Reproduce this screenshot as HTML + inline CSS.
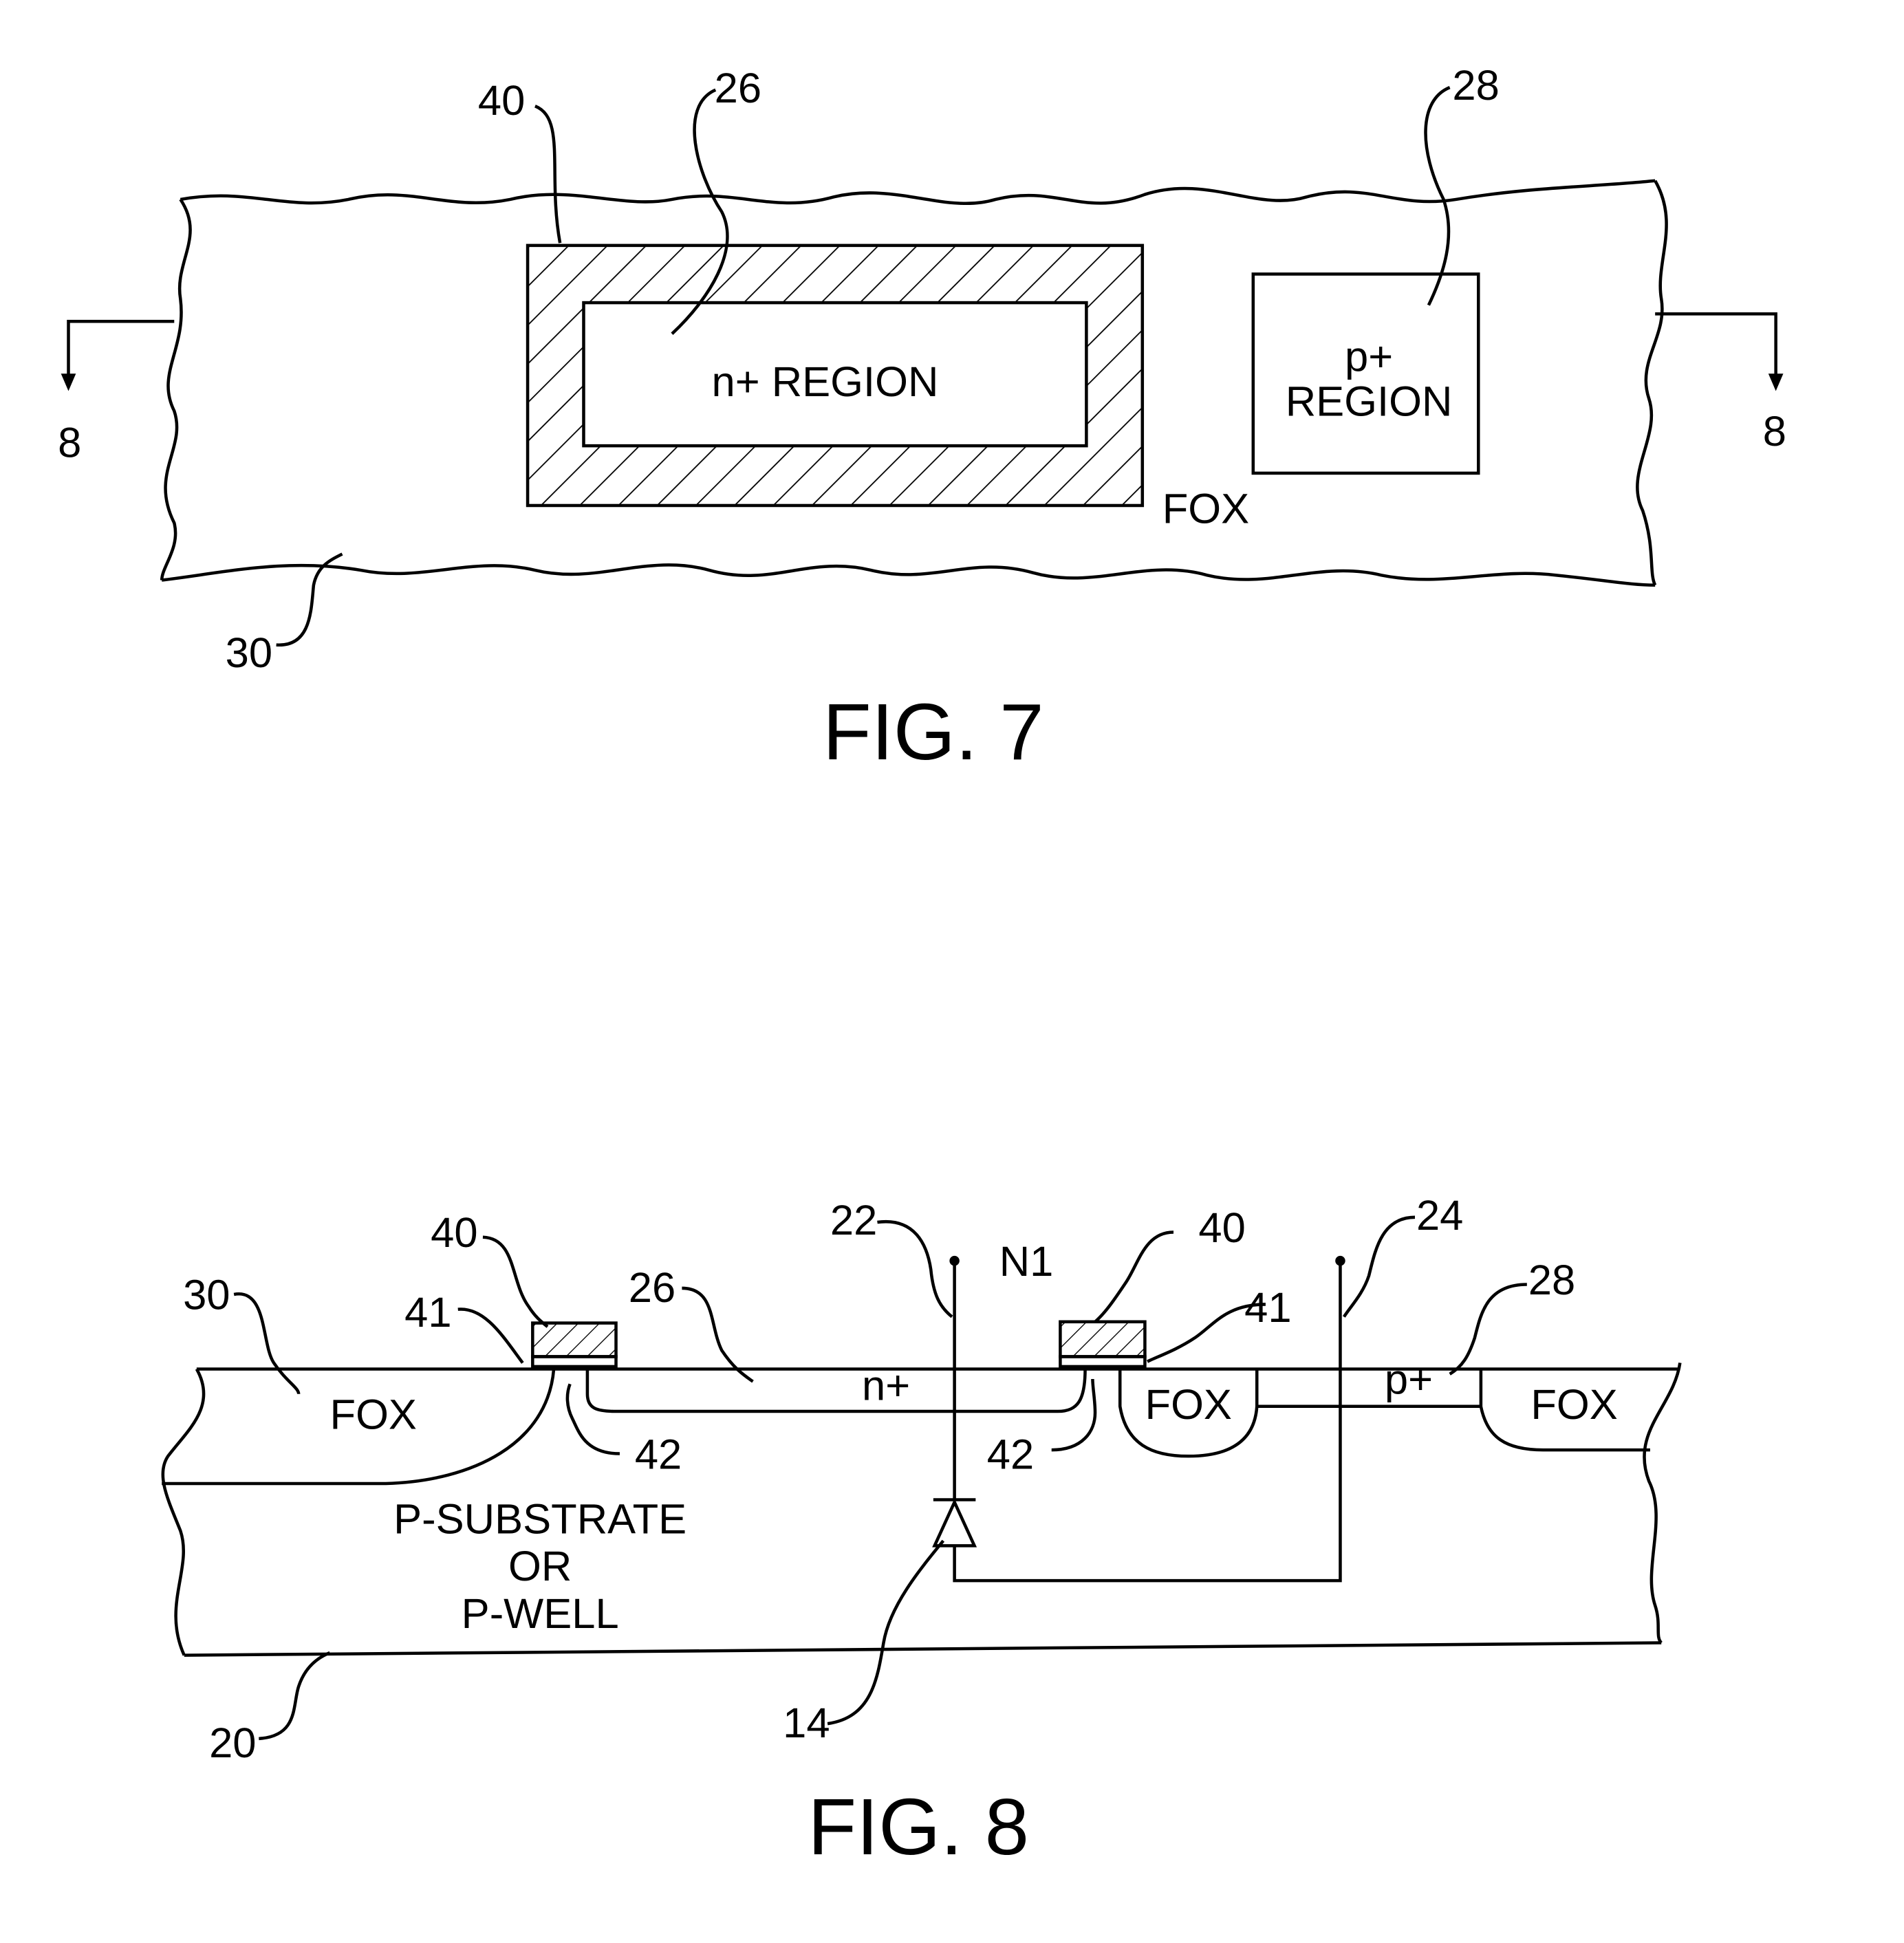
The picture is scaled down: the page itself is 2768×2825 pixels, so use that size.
<!DOCTYPE html>
<html><head><style>
html,body{margin:0;padding:0;background:#fff;}
svg{display:block;}
text{font-family:"Liberation Sans",sans-serif;fill:#000;}
</style></head><body>
<svg width="2768" height="2825" viewBox="0 0 1530 1561" xmlns="http://www.w3.org/2000/svg">
<defs>
<pattern id="h" width="22" height="22" patternUnits="userSpaceOnUse" patternTransform="rotate(45)">
<line x1="0" y1="0" x2="0" y2="22" stroke="#000" stroke-width="2"/>
</pattern>
<pattern id="h2" width="12" height="12" patternUnits="userSpaceOnUse" patternTransform="rotate(45)">
<line x1="0" y1="0" x2="0" y2="12" stroke="#000" stroke-width="1.5"/>
</pattern>
</defs>
<g fill="none" stroke="#000" stroke-width="2.5">
<path d="M145,160 C200,150 230,170 280,160 C330,148 360,170 410,160 C460,148 500,168 540,160 C590,150 620,172 670,158 C720,146 760,172 800,160 C850,148 870,175 920,156 C970,140 1010,170 1050,158 C1100,145 1120,168 1170,160 C1230,150 1280,150 1330,145"/>
<path d="M130,466 C180,460 230,448 290,458 C340,468 380,446 430,458 C480,470 520,444 570,458 C620,472 650,446 700,458 C750,470 780,446 830,460 C880,474 920,448 970,462 C1020,474 1060,450 1110,462 C1160,472 1200,456 1250,462 C1290,466 1310,470 1330,470"/>
<path d="M145,160 C165,190 140,210 145,240 C150,280 125,300 140,330 C150,360 120,380 140,420 C145,440 130,455 130,466"/>
<path d="M1330,145 C1350,180 1330,210 1335,240 C1340,270 1315,290 1325,320 C1335,350 1305,380 1320,410 C1330,440 1325,460 1330,470"/>
<rect x="424" y="197" width="494" height="209" fill="url(#h)"/>
<rect x="469" y="243" width="404" height="115" fill="#fff"/>
<rect x="1007" y="220" width="181" height="160"/>
<path d="M140,258 H55 V305"/>
<path d="M1330,252 H1427 V305"/>
<path d="M430,85 C455,95 440,140 450,195"/>
<path d="M575,72 C545,85 560,140 580,170 C595,200 570,240 540,268"/>
<path d="M1165,70 C1140,80 1140,120 1160,160 C1170,190 1160,220 1148,245"/>
<path d="M222,518 C250,520 250,490 252,470 C255,455 265,450 275,445"/>
<path d="M158,1100 H1350"/>
<path d="M158,1100 C175,1130 150,1150 135,1170 C125,1185 135,1205 145,1230 C155,1260 130,1290 148,1330"/>
<path d="M1350,1095 C1345,1130 1310,1150 1325,1190 C1340,1220 1320,1260 1330,1290 C1335,1305 1330,1315 1335,1320"/>
<path d="M148,1330 L1335,1320"/>
<path d="M445,1100 C440,1160 380,1190 310,1192 H130"/>
<path d="M472,1100 V1120 C472,1132 480,1134 495,1134 H850 C866,1134 872,1125 872,1100"/>
<path d="M900,1100 V1130 C905,1160 925,1170 955,1170 C985,1170 1008,1160 1010,1130 V1100"/>
<path d="M1010,1130 H1190"/>
<path d="M1190,1100 V1130 C1195,1155 1210,1165 1240,1165 H1326"/>
<rect x="428" y="1063" width="67" height="27" fill="url(#h2)"/>
<rect x="428" y="1090" width="67" height="8"/>
<rect x="852" y="1062" width="68" height="28" fill="url(#h2)"/>
<rect x="852" y="1090" width="68" height="8"/>
<path d="M767,1014 V1205"/>
<path d="M750,1205 H784"/>
<path d="M767,1207 L751,1242 H783 Z"/>
<path d="M767,1242 V1270 H1077 V1014"/>
<path d="M388,994 C415,995 410,1030 425,1050 C430,1058 435,1062 440,1066"/>
<path d="M368,1052 C390,1050 405,1075 420,1095"/>
<path d="M188,1040 C215,1035 210,1080 220,1095 C230,1110 240,1115 240,1120"/>
<path d="M548,1035 C575,1035 570,1065 580,1085 C590,1100 598,1105 605,1110"/>
<path d="M498,1168 C470,1168 465,1150 460,1140 C455,1130 455,1120 458,1112"/>
<path d="M845,1165 C870,1165 880,1150 880,1135 C880,1125 878,1115 878,1108"/>
<path d="M705,982 C735,978 745,1000 748,1020 C750,1040 755,1050 765,1058"/>
<path d="M1137,978 C1110,978 1105,1005 1100,1025 C1095,1040 1085,1050 1080,1058"/>
<path d="M1227,1032 C1195,1032 1190,1055 1185,1075 C1180,1090 1175,1098 1165,1104"/>
<path d="M943,990 C920,990 915,1015 905,1030 C895,1045 888,1055 880,1062"/>
<path d="M1017,1048 C985,1048 975,1065 960,1075 C945,1085 930,1090 922,1094"/>
<path d="M665,1385 C700,1380 705,1350 710,1320 C715,1290 740,1260 758,1238"/>
<path d="M208,1397 C240,1395 235,1370 240,1355 C245,1340 255,1332 265,1328"/>
</g>
<polygon points="49,300 61,300 55,314" fill="#000"/>
<polygon points="1421,300 1433,300 1427,314" fill="#000"/>
<circle cx="767" cy="1013" r="4" fill="#000"/>
<circle cx="1077" cy="1013" r="4" fill="#000"/>
<g font-size="34">
<text x="663" y="318" text-anchor="middle">n+ REGION</text>
<text x="1100" y="298" text-anchor="middle">p+</text>
<text x="1100" y="334" text-anchor="middle">REGION</text>
<text x="934" y="420">FOX</text>
<text x="56" y="367" text-anchor="middle">8</text>
<text x="1426" y="358" text-anchor="middle">8</text>
<text x="403" y="92" text-anchor="middle">40</text>
<text x="593" y="82" text-anchor="middle">26</text>
<text x="1186" y="80" text-anchor="middle">28</text>
<text x="200" y="536" text-anchor="middle">30</text>
<text x="300" y="1148" text-anchor="middle">FOX</text>
<text x="955" y="1140" text-anchor="middle">FOX</text>
<text x="1265" y="1140" text-anchor="middle">FOX</text>
<text x="712" y="1125" text-anchor="middle">n+</text>
<text x="1132" y="1120" text-anchor="middle">p+</text>
<text x="434" y="1232" text-anchor="middle">P-SUBSTRATE</text>
<text x="434" y="1270" text-anchor="middle">OR</text>
<text x="434" y="1308" text-anchor="middle">P-WELL</text>
<text x="803" y="1025">N1</text>
<text x="365" y="1002" text-anchor="middle">40</text>
<text x="344" y="1066" text-anchor="middle">41</text>
<text x="166" y="1052" text-anchor="middle">30</text>
<text x="524" y="1046" text-anchor="middle">26</text>
<text x="529" y="1180" text-anchor="middle">42</text>
<text x="812" y="1180" text-anchor="middle">42</text>
<text x="686" y="992" text-anchor="middle">22</text>
<text x="1157" y="988" text-anchor="middle">24</text>
<text x="1247" y="1040" text-anchor="middle">28</text>
<text x="982" y="998" text-anchor="middle">40</text>
<text x="1000" y="1062">41</text>
<text x="648" y="1396" text-anchor="middle">14</text>
<text x="187" y="1412" text-anchor="middle">20</text>
</g>
<text x="750" y="610" font-size="64" text-anchor="middle">FIG. 7</text>
<text x="738" y="1490" font-size="64" text-anchor="middle">FIG. 8</text>
</svg>
</body></html>
